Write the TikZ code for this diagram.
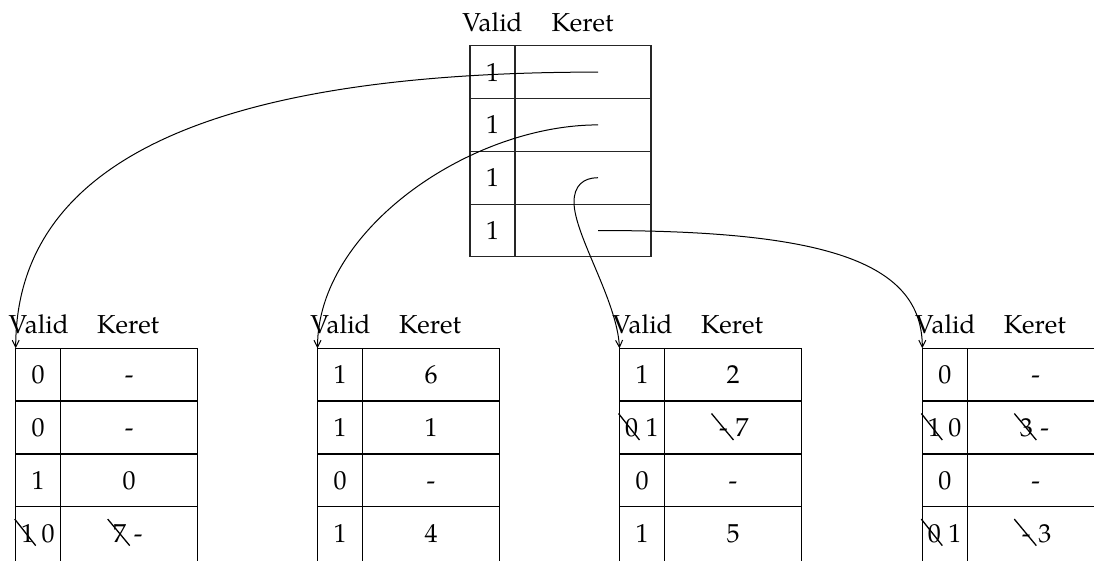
\documentclass[tikz,border=0pt]{standalone}
\usepackage{fontspec}
\setmainfont{TeX Gyre Pagella}
\usetikzlibrary{arrows.meta}

\tikzset{
  frame/.style={line width=1.3pt, draw=black},
  topframe/.style={line width=1.1pt, draw=black!85},
  txt/.style={font=\fontsize{26}{31}\selectfont, inner sep=0pt, text height=18pt, text depth=0pt},
  hdr/.style={font=\fontsize{26}{31}\selectfont, inner sep=0pt, anchor=base},
  link/.style={line width=1pt, -{Straight Barb[length=7pt,width=7pt]}},
  xout/.style={line width=1.3pt},
}

% page table: left edge, corner name
\newcommand{\PgTable}[2]{%
  \draw[frame] (#1,575) -- (#1,348.3) -- ({#1+182},348.3) -- ({#1+182},575);
  \draw[frame] ({#1+45},348.3) -- ({#1+45},575);
  \foreach \r in {1,2,3}{\draw[frame] (#1,{348.3+52.8*\r}) -- ({#1+182},{348.3+52.8*\r});}
  \node[hdr] (#2v) at ({#1+23},333.3) {Valid};
  \node[hdr] (#2k) at ({#1+112.5},333.3) {Keret};
  \coordinate (#2) at (#1,348.3);
}
% plain cells: name, table left, row, text
\newcommand{\CellA}[4]{\node[txt] (#1) at ({#2+22.5},{348.3+52.8*(#3-0.5)}) {#4};}
\newcommand{\CellB}[4]{\node[txt] (#1) at ({#2+113.5},{348.3+52.8*(#3-0.5)}) {#4};}
% overwritten cells: name, table left, row, old value, new value
\newcommand{\FixA}[5]{%
  \node[txt] (#1s) at ({#2+12},{348.3+52.8*(#3-0.5)}) {#4};
  \node[txt] (#1) at ({#2+32.5},{348.3+52.8*(#3-0.5)}) {#5};
  \draw[xout] ([shift={(-13,-14)}]#1s.center) -- ([shift={(8,12.5)}]#1s.center);
}
\newcommand{\FixB}[5]{%
  \node[txt] (#1s) at ({#2+104},{348.3+52.8*(#3-0.5)}) {#4};
  \node[txt] (#1) at ({#2+122.5},{348.3+52.8*(#3-0.5)}) {#5};
  \draw[xout] ([shift={(-12,-14)}]#1s.center) -- ([shift={(10,12.5)}]#1s.center);
}

\begin{document}
\begin{tikzpicture}[x=1pt,y=-1pt]
\useasboundingbox (0,0) rectangle (1094,560);

% page table of the process
\draw[topframe] (470,45.7) rectangle (651,256.9);
\draw[topframe] (515,45.7) -- (515,256.9);
\foreach \r in {1,2,3}{\draw[topframe] (470,{45.7+52.8*\r}) -- (651,{45.7+52.8*\r});}
\node[hdr] (tv) at (492.5,31.7) {Valid};
\node[hdr] (tk) at (582.5,31.7) {Keret};
\foreach \r in {1,2,3,4}{
  \node[txt] (tv\r) at (492.5,{45.7+52.8*(\r-0.5)}) {1};
  \coordinate (p\r) at (598,{45.7+52.8*(\r-0.5)});
}

% second-level tables
\PgTable{15.7}{b1}
\PgTable{317.5}{b2}
\PgTable{619.5}{b3}
\PgTable{922.3}{b4}

% table 1
\CellA{a1v}{15.7}{1}{0}  \CellB{a1k}{15.7}{1}{-}
\CellA{a2v}{15.7}{2}{0}  \CellB{a2k}{15.7}{2}{-}
\CellA{a3v}{15.7}{3}{1}  \CellB{a3k}{15.7}{3}{0}
\FixA{a4v}{15.7}{4}{1}{0} \FixB{a4k}{15.7}{4}{7}{-}

% table 2
\CellA{c1v}{317.5}{1}{1}  \CellB{c1k}{317.5}{1}{6}
\CellA{c2v}{317.5}{2}{1}  \CellB{c2k}{317.5}{2}{1}
\CellA{c3v}{317.5}{3}{0}  \CellB{c3k}{317.5}{3}{-}
\CellA{c4v}{317.5}{4}{1}  \CellB{c4k}{317.5}{4}{4}

% table 3
\CellA{d1v}{619.5}{1}{1}  \CellB{d1k}{619.5}{1}{2}
\FixA{d2v}{619.5}{2}{0}{1} \FixB{d2k}{619.5}{2}{-}{7}
\CellA{d3v}{619.5}{3}{0}  \CellB{d3k}{619.5}{3}{-}
\CellA{d4v}{619.5}{4}{1}  \CellB{d4k}{619.5}{4}{5}

% table 4
\CellA{e1v}{922.3}{1}{0}  \CellB{e1k}{922.3}{1}{-}
\FixA{e2v}{922.3}{2}{1}{0} \FixB{e2k}{922.3}{2}{3}{-}
\CellA{e3v}{922.3}{3}{0}  \CellB{e3k}{922.3}{3}{-}
\FixA{e4v}{922.3}{4}{0}{1} \FixB{e4k}{922.3}{4}{-}{3}

% pointers from the frame column
\draw[link] (p1) .. controls (260,72) and (15.7,140) .. (b1);
\draw[link] (p2) .. controls (470,125) and (317.5,230) .. (b2);
\coordinate (h3) at (574,202);
\draw[link] (p3) .. controls (583,177.7) and (574,186) .. (h3)
                 .. controls (574,235) and (617,300) .. (b3);
\draw[link] (p4) .. controls (820,230.5) and (922.3,260) .. (b4);
\end{tikzpicture}
\end{document}
